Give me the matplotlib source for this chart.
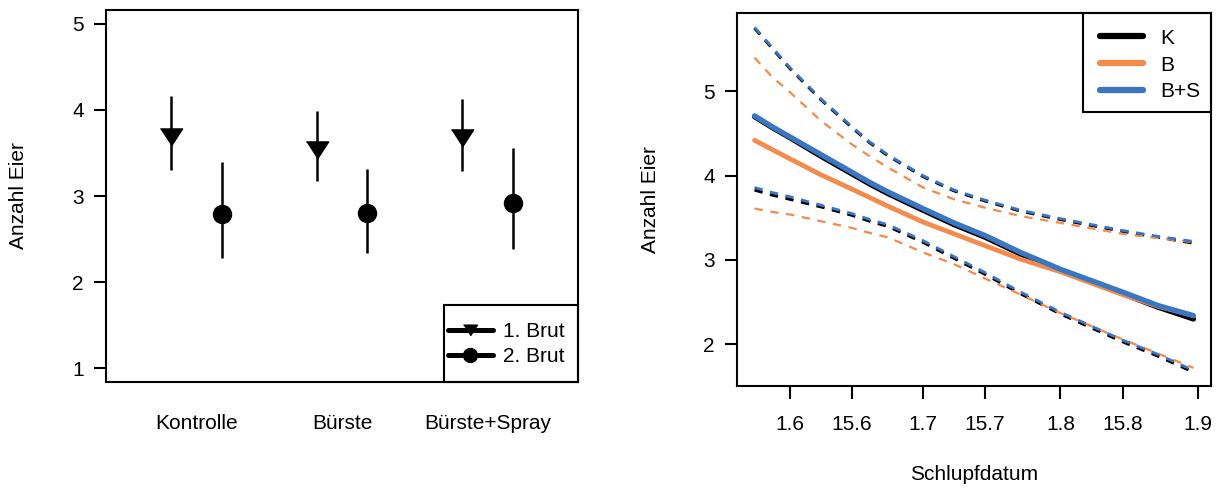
import matplotlib
matplotlib.use("Agg")
import matplotlib.pyplot as plt
from matplotlib.lines import Line2D
from matplotlib.patches import Rectangle
import numpy as np

# left panel: mean and CI per treatment, first and second brood
groups = ["Kontrolle", "Bürste", "Bürste+Spray"]
brut1_mean = [3.69, 3.54, 3.67]
brut1_lo = [3.30, 3.17, 3.29]
brut1_hi = [4.16, 3.99, 4.13]
brut2_mean = [2.79, 2.80, 2.92]
brut2_lo = [2.28, 2.34, 2.38]
brut2_hi = [3.39, 3.31, 3.56]

# right panel: fitted eggs vs hatching date (day of year)
days = [144, 148, 152, 159, 166, 170, 174, 182, 189, 196, 204, 213, 227, 235, 243]
k_fit = [4.70, 4.57, 4.45, 4.23, 4.02, 3.90, 3.79, 3.59, 3.42, 3.27, 3.07, 2.88, 2.60, 2.44, 2.30]
k_lo = [3.83, 3.77, 3.72, 3.63, 3.53, 3.46, 3.40, 3.21, 3.02, 2.83, 2.60, 2.36, 2.03, 1.86, 1.67]
k_hi = [5.75, 5.51, 5.27, 4.90, 4.57, 4.39, 4.24, 3.99, 3.82, 3.70, 3.58, 3.48, 3.34, 3.27, 3.20]
b_fit = [4.42, 4.31, 4.20, 4.01, 3.84, 3.74, 3.64, 3.45, 3.31, 3.17, 3.01, 2.86, 2.59, 2.45, 2.34]
b_lo = [3.61, 3.57, 3.54, 3.46, 3.38, 3.32, 3.27, 3.09, 2.95, 2.78, 2.59, 2.37, 2.06, 1.89, 1.72]
b_hi = [5.40, 5.17, 4.99, 4.65, 4.37, 4.23, 4.10, 3.86, 3.72, 3.62, 3.52, 3.44, 3.31, 3.26, 3.21]
bs_fit = [4.71, 4.58, 4.46, 4.25, 4.04, 3.92, 3.81, 3.61, 3.44, 3.29, 3.09, 2.89, 2.62, 2.46, 2.34]
bs_lo = [3.86, 3.80, 3.75, 3.65, 3.55, 3.48, 3.42, 3.23, 3.04, 2.85, 2.62, 2.38, 2.05, 1.88, 1.69]
bs_hi = [5.76, 5.52, 5.28, 4.91, 4.58, 4.40, 4.25, 4.00, 3.83, 3.71, 3.59, 3.49, 3.35, 3.28, 3.22]

tick_days = [152, 166, 182, 196, 213, 227, 244]
tick_labels = ["1.6", "15.6", "1.7", "15.7", "1.8", "15.8", "1.9"]

plt.rcParams['font.family'] = ['Liberation Sans', 'DejaVu Sans']
plt.rcParams['font.size'] = 15
plt.rcParams['lines.scale_dashes'] = False

orange = "#f58a4b"
blue = "#3a76c2"

fig = plt.figure(figsize=(12.17, 4.88), dpi=100)
ax1 = fig.add_axes([106 / 1217, 1 - 382 / 488, 472 / 1217, 372 / 488])
ax2 = fig.add_axes([737 / 1217, 1 - 386 / 488, 474 / 1217, 373 / 488])

tri = [(-1, 0.77), (1, 0.77), (0, -0.77)]

# ---- left panel ----
x = np.arange(1, len(groups) + 1)
off = 0.175
ax1.vlines(x - off, brut1_lo, brut1_hi, color="black", lw=1.8)
ax1.vlines(x + off, brut2_lo, brut2_hi, color="black", lw=1.8)
ax1.plot(x - off, brut1_mean, ls="none", marker=tri, ms=16, color="black")
ax1.plot(x + off, brut2_mean, ls="none", marker="o", ms=13, color="black")

ax1.set_xlim(0.38, 3.62)
ax1.set_ylim(0.84, 5.16)
ax1.set_yticks([1, 2, 3, 4, 5])
ax1.set_xticks(x)
ax1.set_xticklabels(groups)
ax1.tick_params(axis="x", length=0, pad=23)
ax1.tick_params(axis="y", length=9, width=1.5, pad=7)

# legend box drawn by hand so padding can match
bx0 = (444 - 106) / 472
by1 = (382 - 305) / 372
ax1.add_patch(Rectangle((bx0, 0), 1 - bx0, by1, transform=ax1.transAxes,
                        facecolor="white", edgecolor="black", lw=1.5, zorder=5, clip_on=False))
h1 = [Line2D([], [], color="black", lw=3.6, marker=tri, ms=10, solid_capstyle="round"),
      Line2D([], [], color="black", lw=3.6, marker="o", ms=10, solid_capstyle="round")]
leg1 = ax1.legend(h1, ["1. Brut", "2. Brut"], loc="center left",
                  bbox_to_anchor=((448 - 106) / 472, (382 - 344) / 372), frameon=False,
                  borderaxespad=0, handlelength=2.15, handletextpad=0.5,
                  labelspacing=0.3, borderpad=0)
leg1.set_zorder(6)

# ---- right panel ----
for fit, lo, hi, col, lwf, lwd in [(k_fit, k_lo, k_hi, "black", 3.8, 2.2),
                                   (b_fit, b_lo, b_hi, orange, 3.4, 1.6),
                                   (bs_fit, bs_lo, bs_hi, blue, 3.8, 2.0)]:
    ax2.plot(days, lo, color=col, lw=lwd, dashes=(6, 5.5))
    ax2.plot(days, hi, color=col, lw=lwd, dashes=(6, 5.5))
    ax2.plot(days, fit, color=col, lw=lwf, solid_capstyle="round")

ax2.set_xlim(140.04, 246.96)
ax2.set_ylim(1.505, 5.93)
ax2.set_yticks([2, 3, 4, 5])
ax2.set_xticks(tick_days)
ax2.set_xticklabels(tick_labels)
ax2.tick_params(axis="x", length=9, width=1.5, pad=12)
ax2.tick_params(axis="y", length=9, width=1.5, pad=7)

cx0 = (1083 - 737) / 474
cy0 = 1 - (112 - 13) / 373
ax2.add_patch(Rectangle((cx0, cy0), 1 - cx0, 1 - cy0, transform=ax2.transAxes,
                        facecolor="white", edgecolor="black", lw=1.5, zorder=5, clip_on=False))
h2 = [Line2D([], [], color=c, lw=4.5, solid_capstyle="round") for c in ["black", orange, blue]]
leg2 = ax2.legend(h2, ["K", "B", "B+S"], loc="center left",
                  bbox_to_anchor=((1100 - 737) / 474, (386 - 65) / 373), frameon=False,
                  borderaxespad=0, handlelength=2.05, handletextpad=0.85,
                  labelspacing=0.38, borderpad=0)
leg2.set_zorder(6)

for ax in (ax1, ax2):
    for s in ax.spines.values():
        s.set_linewidth(1.5)
        s.set_zorder(7)

fig.text(19 / 1217, 1 - 196 / 488, "Anzahl Eier", rotation=90, ha="center", va="center")
fig.text(650 / 1217, 1 - 200 / 488, "Anzahl Eier", rotation=90, ha="center", va="center")
fig.text(974 / 1217, 1 - 475 / 488, "Schlupfdatum", ha="center", va="center")

fig.savefig("out.png", dpi=100)
